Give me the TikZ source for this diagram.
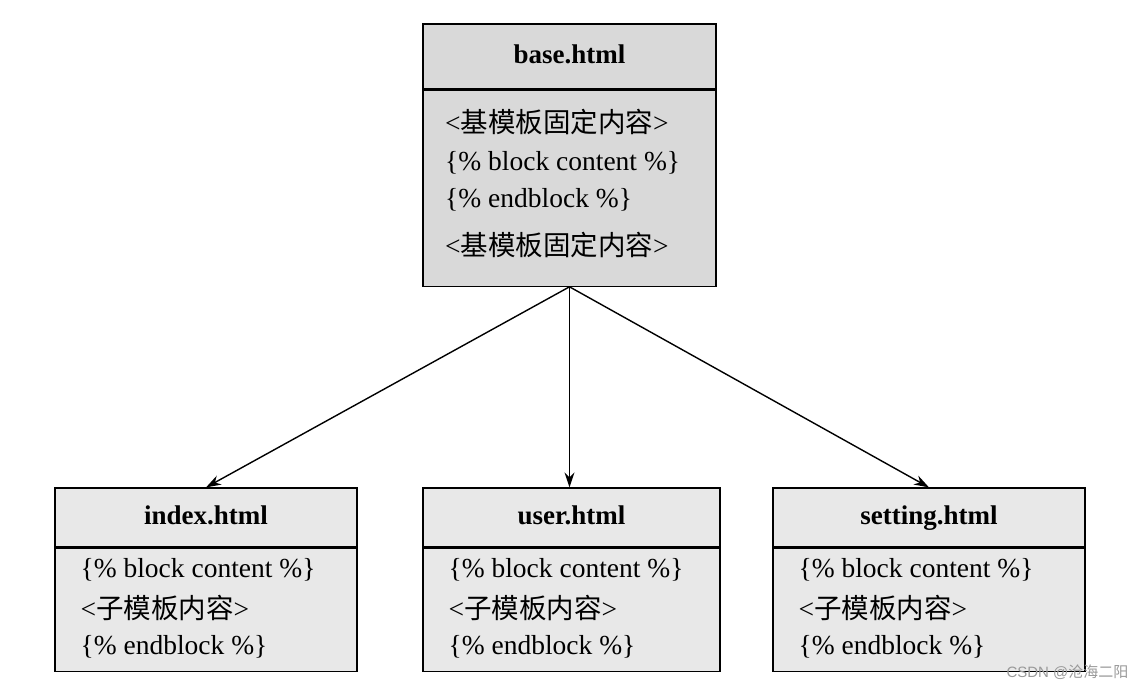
\documentclass[tikz,border=0pt]{standalone}
\usepackage{fontspec}
\setmainfont{Liberation Serif}
\setsansfont{Liberation Sans}
\newfontfamily\cjk{Noto Sans CJK SC}
\usetikzlibrary{positioning, arrows.meta}
\tikzset{
    x=1pt, y=-1pt,
    head/.style={draw, line width=1.2pt, fill=gray!30, inner sep=0pt, text height=16pt, text depth=3pt, font=\fontsize{27}{27}\selectfont\bfseries}, % title row of a template
    body/.style={draw, line width=1.2pt, fill=gray!30, inner sep=0pt}, % content part of a template
    line/.style={anchor=west, inner sep=0pt, font=\fontsize{27.5}{27.5}\selectfont},
    link/.style={-{Stealth[length=15pt, width=10pt]}, line width=1.4pt},
    }
\begin{document}
\begin{tikzpicture}
        \useasboundingbox (0,0) rectangle (1144,691);
        % base template
        \node[head, minimum width=293, minimum height=65] (base) at (569.5,56.5) {base.html};
        \node[body, minimum width=293, minimum height=196, below=0pt of base] (basebody) {};
        \node[line] (b1) at (445,122) {<{\cjk 基模板固定内容}>};
        \node[line] (b2) at (445,163) {\{\% block content \%\}};
        \node[line] (b3) at (445,200) {\{\% endblock \%\}};
        \node[line] (b4) at (445,245) {<{\cjk 基模板固定内容}>};

        % child templates
        \foreach \name/\cx/\w/\title in {index/206/302/index.html, user/571.5/297/user.html, setting/929/312/setting.html} {
            \node[head, fill=gray!18, minimum width=\w, minimum height=59] (\name) at (\cx,517.5) {\title};
            \node[body, fill=gray!18, minimum width=\w, minimum height=123, below=0pt of \name] (\name body) {};
            \node[line, xshift=26pt] (\name1) at (\name body.west |- 0,570) {\{\% block content \%\}};
            \node[line, xshift=26pt] (\name2) at (\name body.west |- 0,608) {<{\cjk 子模板内容}>};
            \node[line, xshift=26pt] (\name3) at (\name body.west |- 0,647) {\{\% endblock \%\}};
        }

        \draw[link] (basebody.south) -- (index.north);
        \draw[link] (basebody.south) -- (basebody.south |- user.north);
        \draw[link] (basebody.south) -- (setting.north);

        \node[anchor=east, text=gray!80, font=\sffamily\fontsize{15}{15}\selectfont] (mark) at (1132,672) {CSDN @{\cjk 沧海二阳}};
    \end{tikzpicture}
\end{document}
